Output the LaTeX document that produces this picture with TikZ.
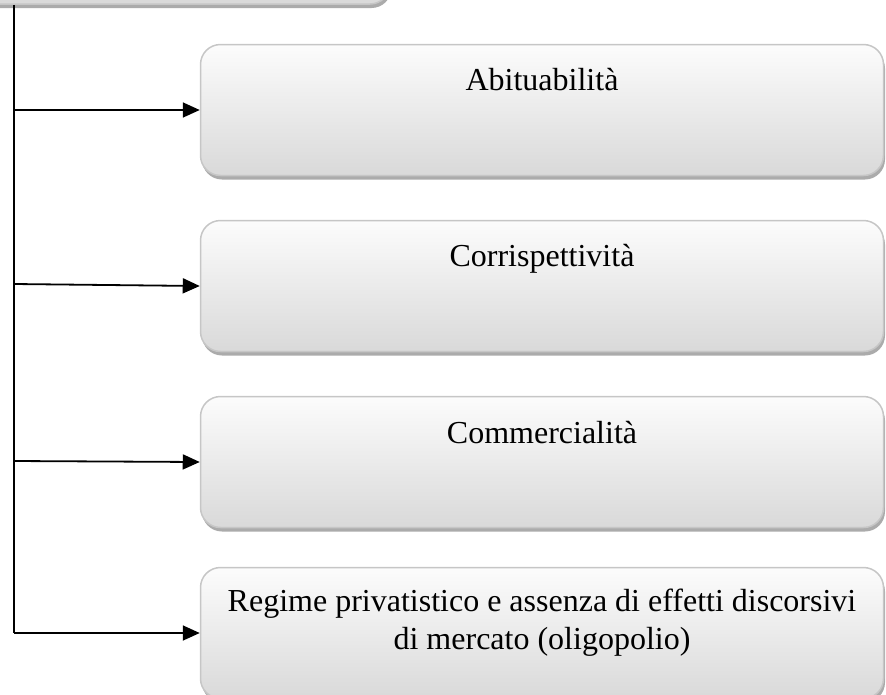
\documentclass[tikz,border=0pt]{standalone}
\usepackage{fontspec}
\setmainfont{Liberation Serif}
\usetikzlibrary{arrows.meta,shadows}
\definecolor{boxborder}{HTML}{C6C6C6}
\definecolor{boxtop}{HTML}{FCFCFC}
\definecolor{boxbot}{HTML}{D9D9D9}
\definecolor{boxshadow}{HTML}{ABABAB}
\tikzset{
  card/.style={draw=boxborder, line width=1.5pt, rounded corners=20pt,
    top color=boxtop, bottom color=boxbot,
    minimum width=683pt, minimum height=131pt, inner sep=0pt,
    drop shadow={shadow xshift=1.5pt, shadow yshift=-4pt, fill=boxshadow, opacity=1}},
  cardtext/.style={font=\fontsize{32}{38}\selectfont, inner sep=0pt, align=center},
  arr/.style={line width=1.8pt, -{Triangle[length=17pt,width=15pt]}},
  trunk/.style={line width=1.8pt}
}
\begin{document}
\begin{tikzpicture}[x=1pt,y=-1pt]
\useasboundingbox (0,0) rectangle (886,694);
\clip (0,0) rectangle (886,694);
% top box (cut off)
\node[card, minimum width=460pt, minimum height=120pt] (top) at (160,-56) {};
% boxes
\node[card] (b1) at (542,110) {};
\node[card] (b2) at (542,286) {};
\node[card] (b3) at (542,462) {};
\node[card] (b4) at (542,633) {};
\node[cardtext, anchor=base] (t1) at ([yshift=-47pt]b1.north) {Abituabilità};
\node[cardtext, anchor=base] (t2) at ([yshift=-47pt]b2.north) {Corrispettività};
\node[cardtext, anchor=base] (t3) at ([yshift=-48pt]b3.north) {Commercialità};
\node[cardtext, anchor=north] (t4) at ([yshift=-22pt]b4.north) {Regime privatistico e assenza di effetti discorsivi\\di mercato (oligopolio)};
% connectors
\coordinate (j1) at (14,110);
\coordinate (j2) at (14,284);
\coordinate (j3) at (14,461);
\coordinate (j4) at (14,633);
\draw[trunk] (top.south -| j4) -- (j4);
\draw[arr] (j1) -- (b1.west);
\draw[arr] (j2) -- (b2.west);
\draw[arr] (j3) -- (b3.west);
\draw[arr] (j4) -- (b4.west);
\end{tikzpicture}
\end{document}
